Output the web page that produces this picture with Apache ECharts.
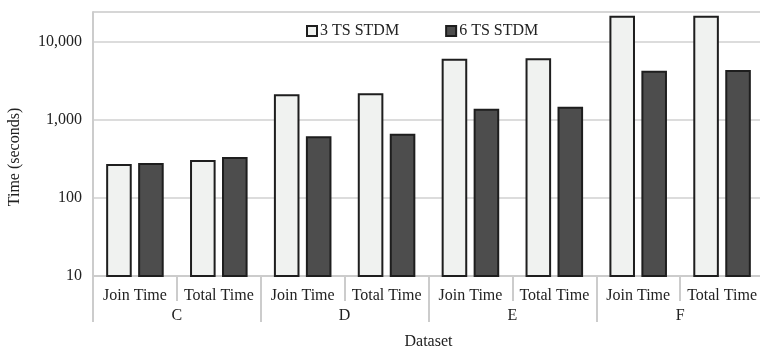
<!DOCTYPE html>
<html>
<head>
<meta charset="utf-8">
<script src="https://cdn.jsdelivr.net/npm/echarts@6/dist/echarts.min.js"></script>
<style>
html,body{margin:0;padding:0;background:#fff;}
#c{width:760px;height:351px;}
</style>
</head>
<body>
<div id="c"></div>
<script>
var subCategories = ['Join Time','Total Time','Join Time','Total Time','Join Time','Total Time','Join Time','Total Time'];
var groups = ['C','D','E','F'];
var seriesNames = ['3 TS STDM','6 TS STDM'];
var ts3 = [273, 307, 2135, 2199, 6108, 6180, 21740, 21740];
var ts6 = [281, 335, 618, 668, 1396, 1482, 4285, 4375];
var yTicks = [10, 100, 1000, 10000];

var FONT = '"Liberation Serif", "DejaVu Serif", serif';
var chart = echarts.init(document.getElementById('c'), null, {renderer:'canvas'});
chart.setOption({
  animation:false,
  textStyle:{fontFamily:FONT},
  grid:{left:93, right:-4, top:12, bottom:75, show:true, borderColor:'#d0d0d0', borderWidth:1, containLabel:false, outerBoundsMode:'none'},
  legend:{
    top:18, left:301, itemWidth:10, itemHeight:10, itemGap:46, icon:'rect',
    textStyle:{fontFamily:FONT, fontSize:16, color:'#222', padding:[0,0,0,-2]},
    data:seriesNames
  },
  xAxis:[{
    type:'category', data:subCategories, position:'bottom',
    axisLine:{show:true, lineStyle:{color:'#cccccc', width:2}},
    axisTick:{show:true, interval:0, alignWithLabel:false, length:25, lineStyle:{color:'#cccccc', width:2}},
    axisLabel:{fontFamily:FONT, fontSize:16, color:'#222', margin:12, interval:0}
  },{
    type:'category', data:groups, position:'bottom', offset:0,
    axisLine:{show:true, lineStyle:{color:'#cccccc', width:2}},
    axisTick:{show:true, interval:0, alignWithLabel:false, length:46, lineStyle:{color:'#cccccc', width:2}},
    axisLabel:{fontFamily:FONT, fontSize:16, color:'#222', margin:32, interval:0},
    name:'Dataset', nameLocation:'middle', nameGap:58,
    nameTextStyle:{fontFamily:FONT, fontSize:16, color:'#222'}
  }],
  yAxis:{
    type:'log', logBase:10, min:10, max:24200, interval:1,
    axisLine:{show:true, lineStyle:{color:'#cccccc', width:2}},
    axisTick:{show:false},
    splitLine:{lineStyle:{color:'#d0d0d0', width:1.5}},
    axisLabel:{fontFamily:FONT, fontSize:16, color:'#222', margin:11,
      formatter:function(v){ return yTicks.indexOf(Math.round(v))>=0 ? Math.round(v).toLocaleString('en-US') : ''; }}
  },
  graphic:[{
    type:'text', x:15, y:157, rotation:Math.PI/2,
    style:{text:'Time (seconds)', font:'16px '+FONT, fill:'#222', textAlign:'center', textVerticalAlign:'middle'}
  }],
  series:[{
    name:seriesNames[0], type:'bar', data:ts3, barWidth:'30.5%', barGap:'25%',
    itemStyle:{color:'#f0f2f0', borderColor:'#1e1e1e', borderWidth:2}
  },{
    name:seriesNames[1], type:'bar', data:ts6, barWidth:'30.5%', barGap:'25%',
    itemStyle:{color:'#4d4d4d', borderColor:'#1e1e1e', borderWidth:2}
  }]
});
</script>
</body>
</html>
